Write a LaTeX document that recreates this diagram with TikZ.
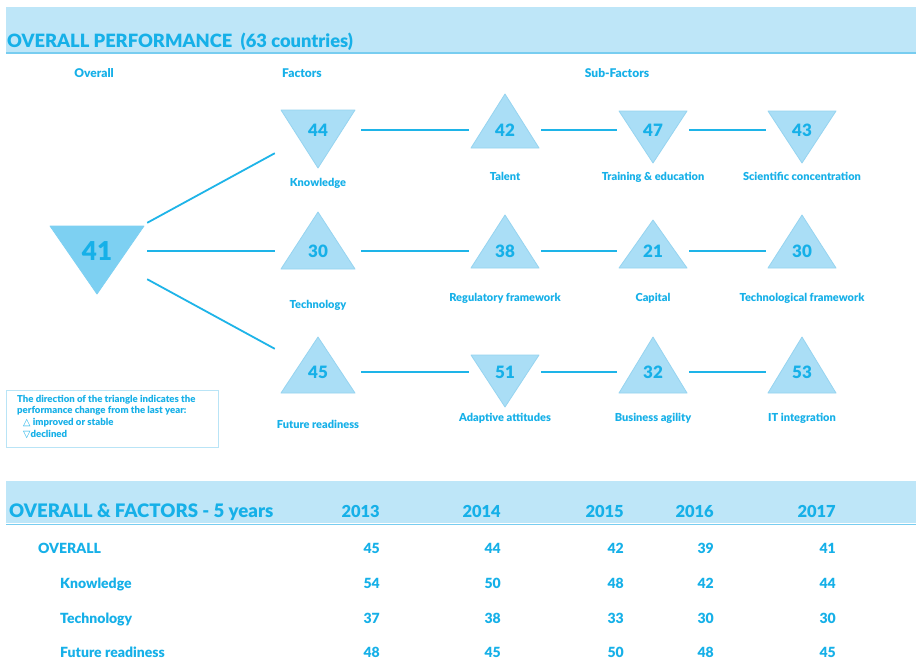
\documentclass[tikz,border=0pt]{standalone}
\usepackage{fontspec}
\setmainfont{Lato}[BoldFont={Lato Black}]
\newfontfamily\symfont{DejaVu Sans}
\definecolor{band}{RGB}{190,230,248}
\definecolor{bandline}{RGB}{120,205,240}
\definecolor{txt}{RGB}{22,176,232}
\definecolor{trifill}{RGB}{170,222,246}
\definecolor{triedge}{RGB}{150,212,240}
\definecolor{mainfill}{RGB}{125,208,242}
\definecolor{conn}{RGB}{30,180,232}
\definecolor{legline}{RGB}{185,228,246}
\tikzset{
  x=1pt,y=-1pt,
  every node/.style={text=txt,font=\bfseries,inner sep=0pt},
  numbox/.style={inner sep=0pt,minimum width=72pt,minimum height=46pt,font=\bfseries\fontsize{17}{17}\selectfont},
  facbox/.style={numbox,minimum width=86pt},
  lab/.style={anchor=base,font=\bfseries\fontsize{11}{12}\selectfont},
  colhead/.style={anchor=base,font=\bfseries\fontsize{12}{13}\selectfont},
  tri/.style={fill=trifill,draw=triedge,line width=0.8pt,line join=round},
  conline/.style={draw=conn,line width=1.8pt},
  rowlab/.style={anchor=base west,font=\bfseries\fontsize{14}{15}\selectfont},
  val/.style={anchor=base east,font=\bfseries\fontsize{14}{15}\selectfont},
  bigtitle/.style={anchor=base west,font=\bfseries\fontsize{18.3}{19}\selectfont},
  yearhead/.style={anchor=base east,font=\bfseries\fontsize{16.5}{18}\selectfont},
  legtext/.style={anchor=base west,font=\bfseries\fontsize{9.6}{10}\selectfont}
}
% up triangle: cx, apex y, base y, half width
\newcommand\uptri[4]{\path[tri] (#1,#2) -- (#1+#4,#3) -- (#1-#4,#3) -- cycle;}
% down triangle: cx, top y, apex y, half width
\newcommand\dntri[4]{\path[tri] (#1-#4,#2) -- (#1+#4,#2) -- (#1,#3) -- cycle;}
\begin{document}
\begin{tikzpicture}
\useasboundingbox (0,0) rectangle (916,662);
\fill[white] (0,0) rectangle (916,662);
% ---- top band
\fill[band] (6,7) rectangle (916,52);
\draw[bandline,line width=1.5pt] (6,53) -- (916,53);
\node[bigtitle] (title) at (7,47) {OVERALL PERFORMANCE \ (63 countries)};
\node[colhead] (hOverall) at (94,77) {Overall};
\node[colhead] (hFactors) at (302,77) {Factors};
\node[colhead] (hSub) at (617,77) {Sub-Factors};
% ---- triangles
\path[tri,fill=mainfill,draw=mainfill] (50,226) -- (144,226) -- (97,294) -- cycle;
\node[numbox,minimum width=100pt,minimum height=56pt,font=\bfseries\fontsize{26}{26}\selectfont] (overall) at (97,251) {41};
% row 1
\dntri{318}{110}{168}{37}
\node[facbox] (know) at (318,130) {44};
\node[lab] (knowL) at (318,186) {Knowledge};
\uptri{505}{94}{148}{34}
\node[numbox] (tal) at (505,130) {42};
\node[lab] (talL) at (505,180) {Talent};
\dntri{653}{111}{163}{34}
\node[numbox] (train) at (653,130) {47};
\node[lab] (trainL) at (653,180) {Training \& education};
\dntri{802}{111}{163}{34}
\node[numbox] (sci) at (802,130) {43};
\node[lab] (sciL) at (802,180) {Scientific concentration};
% row 2
\uptri{318}{212}{269}{37}
\node[facbox] (tech) at (318,251) {30};
\node[lab] (techL) at (318,308) {Technology};
\uptri{505}{215}{268}{34}
\node[numbox] (reg) at (505,251) {38};
\node[lab] (regL) at (505,301) {Regulatory framework};
\uptri{653}{220}{268}{34}
\node[numbox] (cap) at (653,251) {21};
\node[lab] (capL) at (653,301) {Capital};
\uptri{802}{215}{268}{34}
\node[numbox] (tf) at (802,251) {30};
\node[lab] (tfL) at (802,301) {Technological framework};
% row 3
\uptri{318}{337}{393}{37}
\node[facbox] (fut) at (318,372) {45};
\node[lab] (futL) at (318,428) {Future readiness};
\dntri{505}{355}{407}{34}
\node[numbox] (adap) at (505,372) {51};
\node[lab] (adapL) at (505,421) {Adaptive attitudes};
\uptri{653}{337}{393}{34}
\node[numbox] (bus) at (653,372) {32};
\node[lab] (busL) at (653,421) {Business agility};
\uptri{802}{337}{393}{34}
\node[numbox] (it) at (802,372) {53};
\node[lab] (itL) at (802,421) {IT integration};
% ---- connectors
\draw[conline] (overall.north east) -- (know.south west);
\draw[conline] (overall.east) -- (tech.west);
\draw[conline] (overall.south east) -- (fut.north west);
\draw[conline] (know.east) -- (tal.west);
\draw[conline] (tal.east) -- (train.west);
\draw[conline] (train.east) -- (sci.west);
\draw[conline] (tech.east) -- (reg.west);
\draw[conline] (reg.east) -- (cap.west);
\draw[conline] (cap.east) -- (tf.west);
\draw[conline] (fut.east) -- (adap.west);
\draw[conline] (adap.east) -- (bus.west);
\draw[conline] (bus.east) -- (it.west);
% ---- legend
\draw[legline,line width=1pt] (6,390) rectangle (218,447);
\node[legtext] (leg1) at (17,402) {The direction of the triangle indicates the};
\node[legtext] (leg2) at (17,413.5) {performance change from the last year:};
\node[legtext] (leg3) at (23,425) {{\symfont\mdseries △} improved or stable};
\node[legtext] (leg4) at (23,437) {{\symfont\mdseries ▽}declined};
% ---- bottom table
\fill[band] (6,481) rectangle (916,523);
\draw[bandline,line width=1.5pt] (6,524.5) -- (916,524.5);
\node[bigtitle,font=\bfseries\fontsize{18.6}{19}\selectfont] (ttitle) at (9,517) {OVERALL \& FACTORS - 5 years};
\node[yearhead] (y13) at (380,517) {2013};
\node[yearhead] (y14) at (501,517) {2014};
\node[yearhead] (y15) at (624,517) {2015};
\node[yearhead] (y16) at (714,517) {2016};
\node[yearhead] (y17) at (836,517) {2017};
\node[rowlab] (rO) at (38,553) {OVERALL};
\node[rowlab] (rK) at (60,588) {Knowledge};
\node[rowlab] (rT) at (60,623) {Technology};
\node[rowlab] (rF) at (60,657) {Future readiness};
\node[val] (o13) at (380,553) {45};
\node[val] (o14) at (501,553) {44};
\node[val] (o15) at (624,553) {42};
\node[val] (o16) at (714,553) {39};
\node[val] (o17) at (836,553) {41};
\node[val] (k13) at (380,588) {54};
\node[val] (k14) at (501,588) {50};
\node[val] (k15) at (624,588) {48};
\node[val] (k16) at (714,588) {42};
\node[val] (k17) at (836,588) {44};
\node[val] (t13) at (380,623) {37};
\node[val] (t14) at (501,623) {38};
\node[val] (t15) at (624,623) {33};
\node[val] (t16) at (714,623) {30};
\node[val] (t17) at (836,623) {30};
\node[val] (f13) at (380,657) {48};
\node[val] (f14) at (501,657) {45};
\node[val] (f15) at (624,657) {50};
\node[val] (f16) at (714,657) {48};
\node[val] (f17) at (836,657) {45};
\end{tikzpicture}
\end{document}
